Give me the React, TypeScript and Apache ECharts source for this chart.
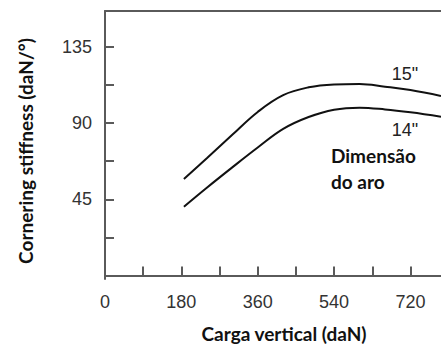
import React, { useEffect, useRef } from "react";
import * as echarts from "echarts";

const loadX = [186, 240, 300, 360, 420, 480, 540, 600, 660, 720, 792];
const stiff15 = [57.0, 69.2, 83.0, 96.5, 106.4, 111.0, 112.7, 113.0, 111.4, 109.4, 105.9];
const stiff14 = [40.6, 51.8, 63.8, 75.5, 86.5, 93.5, 97.8, 99.0, 98.0, 96.3, 93.7];
const xTickValues = [90, 180, 270, 360, 450, 540, 630, 720];
const xLabelValues = [0, 180, 360, 540, 720];
const yTickValues = [22.5, 45, 67.5, 90, 112.5, 135];
const yLabelValues = [45, 90, 135];

export default function App() {
  const ref = useRef<HTMLDivElement>(null);
  useEffect(() => {
    if (!ref.current) return;
    const chart = echarts.init(ref.current, null, { renderer: "svg" });
    const axisColor = "#5a5a5a";
    const labelFont = { color: "#333", fontSize: 18, fontFamily: "Liberation Sans, Arial, sans-serif" };
    const titleFont = { fill: "#111", fontSize: 19, fontWeight: "bold", fontFamily: "Lato, sans-serif" };
    chart.setOption({
      animation: false,
      backgroundColor: "#fff",
      grid: { left: 105, right: 0, top: 11, bottom: 73 },
      xAxis: [
        {
          type: "value",
          min: 0,
          max: 792,
          axisLine: { show: true, lineStyle: { color: axisColor, width: 2 } },
          axisTick: { show: true, inside: true, length: 9, customValues: xTickValues, lineStyle: { color: axisColor, width: 2 } },
          axisLabel: { ...labelFont, margin: 14, customValues: xLabelValues },
          splitLine: { show: false },
        },
        {
          type: "value",
          position: "top",
          min: 0,
          max: 792,
          axisLine: { show: true, lineStyle: { color: axisColor, width: 2 } },
          axisTick: { show: false },
          axisLabel: { show: false },
          splitLine: { show: false },
        },
      ],
      yAxis: {
        type: "value",
        min: -2,
        max: 156,
        axisLine: { show: true, lineStyle: { color: axisColor, width: 2 } },
        axisTick: { show: true, inside: true, length: 9, customValues: yTickValues, lineStyle: { color: axisColor, width: 2 } },
        axisLabel: { ...labelFont, margin: 13, customValues: yLabelValues },
        splitLine: { show: false },
      },
      series: [
        {
          type: "line",
          data: loadX.map((x, i) => [x, stiff15[i]]),
          smooth: 0.4,
          showSymbol: false,
          lineStyle: { color: "#111", width: 2 },
        },
        {
          type: "line",
          data: loadX.map((x, i) => [x, stiff14[i]]),
          smooth: 0.4,
          showSymbol: false,
          lineStyle: { color: "#111", width: 2 },
        },
      ],
      graphic: [
        {
          type: "text",
          x: 405,
          y: 74,
          style: { text: '15"', align: "center", verticalAlign: "middle", fill: "#222", fontSize: 18, fontFamily: "Liberation Sans, Arial, sans-serif" },
        },
        {
          type: "text",
          x: 405,
          y: 130,
          style: { text: '14"', align: "center", verticalAlign: "middle", fill: "#222", fontSize: 18, fontFamily: "Liberation Sans, Arial, sans-serif" },
        },
        {
          type: "text",
          x: 331,
          y: 168,
          style: { ...titleFont, text: "Dimensão\ndo aro", align: "left", verticalAlign: "middle", lineHeight: 26 },
        },
        {
          type: "text",
          x: 284,
          y: 333,
          style: { ...titleFont, text: "Carga vertical (daN)", align: "center", verticalAlign: "middle" },
        },
        {
          type: "text",
          x: 25,
          y: 151,
          rotation: Math.PI / 2,
          style: { ...titleFont, text: "Cornering stiffness (daN/°)", align: "center", verticalAlign: "middle" },
        },
      ],
    });
    return () => chart.dispose();
  }, []);
  return <div ref={ref} style={{ position: "fixed", left: 0, top: 0, width: 441, height: 352 }} />;
}
